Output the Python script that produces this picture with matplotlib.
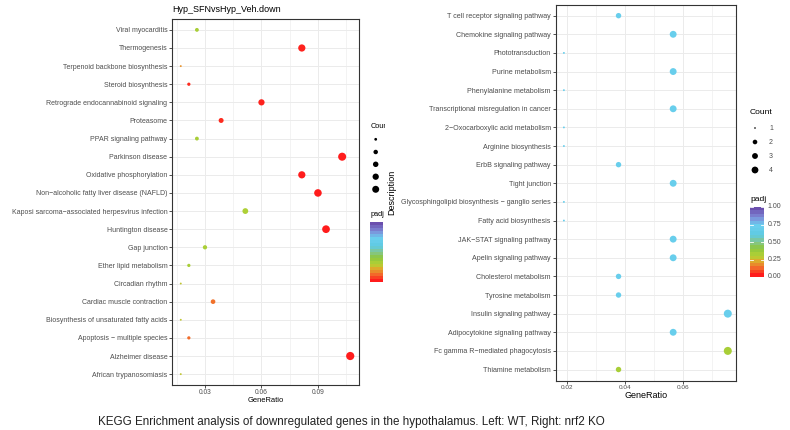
import numpy as np
import matplotlib
matplotlib.use('Agg')
import matplotlib.pyplot as plt
from matplotlib.colors import LinearSegmentedColormap
from matplotlib.ticker import FixedLocator

plt.rcParams['font.family'] = ['Liberation Sans', 'DejaVu Sans']

W, H = 790, 430

# ---------------- data ----------------
left_title = "Hyp_SFNvsHyp_Veh.down"
left_terms = ["Viral myocarditis", "Thermogenesis", "Terpenoid backbone biosynthesis",
              "Steroid biosynthesis", "Retrograde endocannabinoid signaling", "Proteasome",
              "PPAR signaling pathway", "Parkinson disease", "Oxidative phosphorylation",
              "Non\u2212alcoholic fatty liver disease (NAFLD)",
              "Kaposi sarcoma\u2212associated herpesvirus infection", "Huntington disease",
              "Gap junction", "Ether lipid metabolism", "Circadian rhythm",
              "Cardiac muscle contraction", "Biosynthesis of unsaturated fatty acids",
              "Apoptosis \u2212 multiple species", "Alzheimer disease", "African trypanosomiasis"]
left_counts = [6, 19, 4, 5, 14, 9, 6, 24, 19, 21, 12, 22, 7, 5, 4, 8, 4, 5, 25, 4]
left_padj = [0.32, 0.01, 0.17, 0.02, 0.01, 0.02, 0.32, 0.0, 0.0, 0.0,
             0.30, 0.0, 0.31, 0.32, 0.26, 0.12, 0.26, 0.11, 0.0, 0.26]
left_total = 233
left_ticks = [0.03, 0.06, 0.09]
left_minor = [0.015, 0.045, 0.075, 0.105]
left_size_breaks = [5, 10, 15, 20, 25]

right_terms = ["T cell receptor signaling pathway", "Chemokine signaling pathway",
               "Phototransduction", "Purine metabolism", "Phenylalanine metabolism",
               "Transcriptional misregulation in cancer", "2\u2212Oxocarboxylic acid metabolism",
               "Arginine biosynthesis", "ErbB signaling pathway", "Tight junction",
               "Glycosphingolipid biosynthesis \u2212 ganglio series", "Fatty acid biosynthesis",
               "JAK\u2212STAT signaling pathway", "Apelin signaling pathway",
               "Cholesterol metabolism", "Tyrosine metabolism", "Insulin signaling pathway",
               "Adipocytokine signaling pathway", "Fc gamma R\u2212mediated phagocytosis",
               "Thiamine metabolism"]
right_counts = [2, 3, 1, 3, 1, 3, 1, 1, 2, 3, 1, 1, 3, 3, 2, 2, 4, 3, 4, 2]
right_padj = [0.70, 0.70, 0.70, 0.70, 0.70, 0.70, 0.70, 0.70, 0.70, 0.70,
              0.70, 0.70, 0.70, 0.70, 0.70, 0.70, 0.70, 0.70, 0.32, 0.32]
right_total = 53
right_ticks = [0.02, 0.04, 0.06]
right_minor = [0.03, 0.05, 0.07]
right_size_breaks = [1, 2, 3, 4]
cbar_ticks = [0.0, 0.25, 0.5, 0.75, 1.0]

caption = ("KEGG Enrichment analysis of downregulated genes in the hypothalamus. "
           "Left: WT, Right: nrf2 KO")

# ---------------- style ----------------
cmap = LinearSegmentedColormap.from_list('padj', [
    (0.0, '#ff1c1c'), (0.1, '#f4662a'), (0.2, '#e2a62c'), (0.28, '#b4d234'),
    (0.4, '#8dc63f'), (0.5, '#84c690'), (0.6, '#5fcbe3'), (0.75, '#6ccff0'),
    (0.87, '#7f8ad8'), (1.0, '#6b4fae')])
GRID = '#ebebeb'
DARK = '#333333'
TXT = '#4d4d4d'


def fbox(x0, y0, x1, y1):
    return [x0 / W, 1 - y1 / H, (x1 - x0) / W, (y1 - y0) / H]


def dot_px(c, cmin, cmax, dmin, dmax):
    c = np.asarray(c, dtype=float)
    return dmin + (dmax - dmin) * np.sqrt(np.clip((c - cmin) / (cmax - cmin), 0, 1))


def to_s(px):
    return (np.asarray(px) * 72 / 100) ** 2


fig = plt.figure(figsize=(W / 100, H / 100), dpi=100, facecolor='white')


def panel(box, terms, counts, padj, total, ticks, minor, ylab_fs, tick_fs, dmin, dmax, pad):
    ax = fig.add_axes(fbox(*box))
    n = len(terms)
    y = np.arange(n)[::-1]
    gr = np.asarray(counts) / total
    lo, hi = gr.min(), gr.max()
    r = hi - lo
    ax.set_xlim(lo - 0.05 * r, hi + 0.05 * r)
    ax.set_ylim(-0.6, n - 0.4)
    sz = to_s(dot_px(counts, min(counts), max(counts), dmin, dmax))
    ax.scatter(gr, y, s=sz, c=padj, cmap=cmap, vmin=0, vmax=1, linewidths=0, zorder=3)
    ax.set_yticks(y)
    ax.set_yticklabels(terms, fontsize=ylab_fs, color=TXT)
    ax.set_xticks(ticks)
    ax.set_xticklabels([f'{t:.2f}' for t in ticks], fontsize=tick_fs, color=TXT)
    ax.xaxis.set_minor_locator(FixedLocator(minor))
    ax.grid(which='major', color=GRID, lw=0.7)
    ax.grid(which='minor', axis='x', color=GRID, lw=0.4)
    ax.set_axisbelow(True)
    ax.tick_params(which='minor', length=0)
    ax.tick_params(which='major', length=2.0, width=0.6, color=DARK, pad=pad)
    ax.tick_params(axis='x', pad=pad - 0.3)
    for sp in ax.spines.values():
        sp.set_color(DARK)
        sp.set_linewidth(0.8)
    return ax


axL = panel((172.3, 19, 358.7, 385), left_terms, left_counts, left_padj, left_total,
            left_ticks, left_minor, 5.0, 4.8, 1.9, 8.2, 1.5)
axR = panel((555.7, 4.5, 736, 380.7), right_terms, right_counts, right_padj, right_total,
            right_ticks, right_minor, 5.1, 4.6, 1.9, 8.0, 1.5)

# ---------------- overlay (pixel coordinates) ----------------
ov = fig.add_axes([0, 0, 1, 1], zorder=5)
ov.set_xlim(0, W)
ov.set_ylim(H, 0)
ov.axis('off')
ov.patch.set_visible(False)

ov.text(172, 10, left_title, fontsize=6.5, ha='left', va='center', color='black')
ov.text(265.5, 400.7, "GeneRatio", fontsize=5.4, ha='center', va='center', color='black')
ov.text(646, 396, "GeneRatio", fontsize=6.5, ha='center', va='center', color='black')
ov.text(392, 192, "Description", fontsize=6.5, rotation=90, ha='center', va='center', color='black')
ov.text(98.5, 422, caption, fontsize=8.4, ha='left', va='center', color='#222222')

# right legend
ov.text(750, 113, "Count", fontsize=6.1, ha='left', va='center', color='black')
ly = [128, 142, 156, 170]
ov.scatter([755] * len(right_size_breaks), ly,
           s=to_s(dot_px(right_size_breaks, min(right_counts), max(right_counts), 1.9, 8.0) * 0.85),
           c='black', linewidths=0)
for yy, b in zip(ly, right_size_breaks):
    ov.text(769, yy, str(b), fontsize=5, ha='left', va='center', color=TXT)
ov.text(750, 199.5, "padj", fontsize=6.1, ha='left', va='center', color='black')
grad = np.linspace(1, 0, 20).reshape(-1, 1)
ov.imshow(grad, cmap=cmap, vmin=0, vmax=1, extent=(750, 764, 277, 207), aspect='auto',
          interpolation='nearest', zorder=2)
for v in cbar_ticks:
    yy = 207 + (1 - v) * 70
    ov.plot([750, 753], [yy, yy], color='white', lw=0.6, zorder=3)
    ov.plot([761, 764], [yy, yy], color='white', lw=0.6, zorder=3)
    ov.text(767.5, yy, f'{v:.2f}', fontsize=5, ha='left', va='center', color=TXT)
ov.set_xlim(0, W)
ov.set_ylim(H, 0)

# left legend (truncated by the right panel)
lg = fig.add_axes(fbox(360, 100, 384.5, 300), zorder=4)
lg.set_xlim(360, 384.5)
lg.set_ylim(300, 100)
lg.axis('off')
lg.patch.set_visible(False)
lg.text(370.7, 126, "Count", fontsize=5.3, ha='left', va='center', color='black', clip_on=True)
lly = [139.3, 152, 164.3, 176.7, 189.3]
lg.scatter([375.7] * len(left_size_breaks), lly,
           s=to_s(dot_px(left_size_breaks, min(left_counts), max(left_counts), 1.9, 8.2) * 0.85),
           c='black', linewidths=0, clip_on=True)
lg.text(371, 214, "padj", fontsize=5.3, ha='left', va='center', color='black', clip_on=True)
lg.imshow(grad, cmap=cmap, vmin=0, vmax=1, extent=(370, 382.7, 281.7, 221.7), aspect='auto',
          interpolation='nearest')
lg.set_xlim(360, 384.5)
lg.set_ylim(300, 100)

fig.savefig('out.png', dpi=100, facecolor='white')
